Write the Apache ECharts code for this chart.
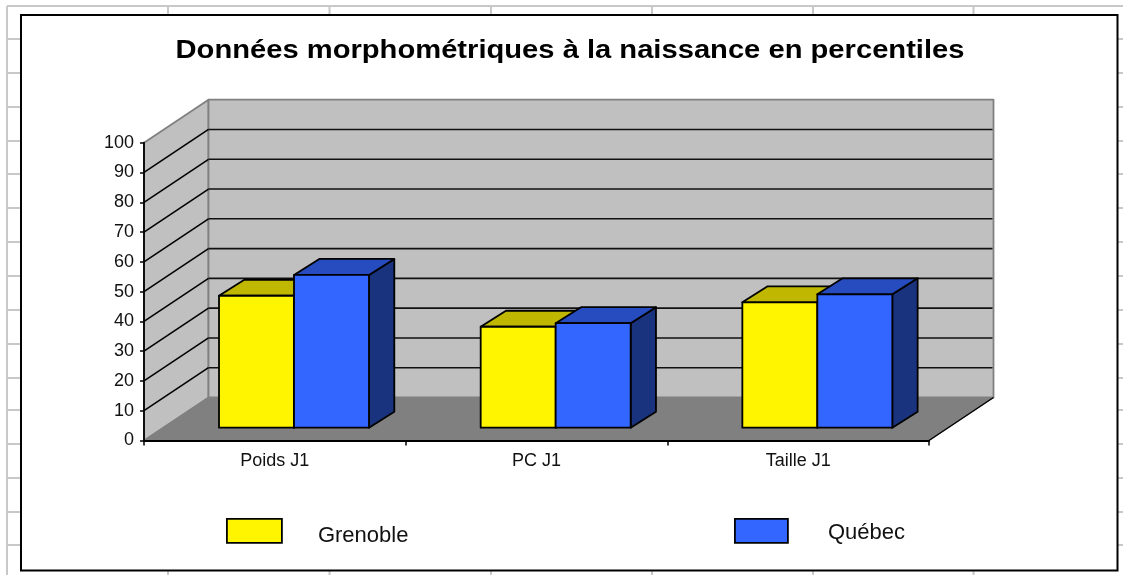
<!DOCTYPE html>
<html><head><meta charset="utf-8">
<style>html,body{margin:0;padding:0;background:#fff}#c{width:1123px;height:575px}</style>
<script src="https://cdn.jsdelivr.net/npm/echarts@6/dist/echarts.min.js"></script>
</head><body><div id="c"></div>
<script>
var categories = ['Poids J1', 'PC J1', 'Taille J1'];
var grenoble = [44.3, 33.9, 42.1];
var quebec = [51.3, 35.1, 44.8];
var gridValues = [10, 20, 30, 40, 50, 60, 70, 80, 90];
var seriesNames = ['Grenoble', 'Québec'];
var titleText = 'Données morphométriques à la naissance en percentiles';

var FONT = '"Liberation Sans", Arial, sans-serif';
var DX = 64.5, DY = -43;          // wall depth
var BDX0 = 19.2, BDY0 = -12.8;    // bar front offset from the front plane
var BDX = 25.3, BDY = -16;        // bar depth
var GAP = 0.2133, BW = 0.2866;
var FILL = [
  {front:'#FFF500', top:'#BFB700', side:'#807A00'},
  {front:'#3366FF', top:'#264CBF', side:'#19337F'}
];
var LINE = '#000';

function poly(pts, fill, stroke, w) {
  return {type:'polygon', shape:{points:pts}, style:{fill:fill, stroke:stroke, lineWidth:w, lineJoin:'round'}};
}
function line(a, b, color, w) {
  return {type:'line', shape:{x1:a[0],y1:a[1],x2:b[0],y2:b[1]}, style:{stroke:color, lineWidth:w, fill:null}};
}
function wallItem(params, api) {
  var band = api.size([1,0])[0];
  var a = api.coord([0,0]), t = api.coord([0,100]);
  var x0 = a[0]-band/2, x1 = x0+band*3, y0 = a[1], yT = t[1];
  var kids = [
    poly([[x0,y0],[x0,yT],[x0+DX,yT+DY],[x0+DX,y0+DY]], '#C0C0C0', '#808080', 1.8),
    poly([[x0+DX,yT+DY],[x1+DX,yT+DY],[x1+DX,y0+DY],[x0+DX,y0+DY]], '#C0C0C0', '#808080', 1.8),
    poly([[x0,y0],[x0+DX,y0+DY],[x1+DX,y0+DY],[x1,y0]], '#808080', '#808080', 1),
    line([x1,y0],[x1+DX,y0+DY], LINE, 1.5)
  ];
  return {type:'group', children:kids};
}
function gridItem(params, api) {
  var band = api.size([1,0])[0];
  var a = api.coord([0,api.value(0)]);
  var x0 = a[0]-band/2, x1 = x0+band*3, y = a[1];
  return {type:'group', children:[
    line([x0,y],[x0+DX,y+DY], LINE, 1.5),
    line([x0+DX,y+DY],[x1+DX-1,y+DY], '#111', 1.6)
  ]};
}
function barItem(s) {
  return function(params, api) {
    var i = api.value(0), v = api.value(1);
    var band = api.size([1,0])[0];
    var c0 = api.coord([i,0]), c1 = api.coord([i,v]);
    var w = band*BW;
    var xl = c0[0]-band/2+band*GAP+s*w+BDX0, xr = xl+w;
    var yb = c0[1]+BDY0, yt = c1[1]+BDY0;
    var f = FILL[s];
    return {type:'group', children:[
      poly([[xr,yt],[xr+BDX,yt+BDY],[xr+BDX,yb+BDY],[xr,yb]], f.side, LINE, 1.8),
      poly([[xl,yt],[xl+BDX,yt+BDY],[xr+BDX,yt+BDY],[xr,yt]], f.top, LINE, 1.8),
      poly([[xl,yt],[xr,yt],[xr,yb],[xl,yb]], f.front, LINE, 1.8)
    ]};
  };
}

// sheet cell lines behind the chart
var bg = [];
function bgLine(x1,y1,x2,y2){bg.push({type:'line',z:0,shape:{x1:x1,y1:y1,x2:x2,y2:y2},style:{stroke:'#C8C8C8',lineWidth:2}});}
bgLine(7,6,1123,6); bgLine(7,6,7,575);
[168,329.5,491,652,813,973.5].forEach(function(x){bgLine(x,6,x,575);});
[39,73,107,141,174,208,242,276,310,344,378,410,444,478,512,545].forEach(function(y){bgLine(7,y,1123,y);});
bg.push({type:'rect',z:1,shape:{x:21,y:15,width:1096.5,height:555.5},style:{fill:'#fff',stroke:'#000',lineWidth:2}});
// title: the reference lettering is stretched horizontally
bg.push({type:'text',z:8,x:570,y:51,scaleX:1.166,scaleY:1,
  style:{text:titleText,fill:'#000',font:'bold 25px "Liberation Sans", Arial, sans-serif',align:'center',verticalAlign:'middle'}});

function legendCfg(name, left, w, pad) {
  return {data:[name], left:left, top:518, itemWidth:w, itemHeight:24, selectedMode:false, padding:0,
    itemStyle:{borderColor:'#000', borderWidth:1.8}, icon:'rect',
    formatter:'{t|{name}}',
    textStyle:{fontFamily:FONT, fontSize:22, color:'#111',
      rich:{t:{fontFamily:FONT, fontSize:22, color:'#111', padding:pad}}}};
}

var chart = echarts.init(document.getElementById('c'), null, {renderer:'canvas'});
chart.setOption({
  animation:false,
  backgroundColor:'#fff',
  grid:{left:144, right:194, top:142.7, bottom:134.5, containLabel:false},
  xAxis:{type:'category', data:categories, z:5,
    axisLine:{lineStyle:{color:'#000', width:1.8}},
    axisTick:{show:true, alignWithLabel:false, length:5, lineStyle:{color:'#000', width:1.5}},
    axisLabel:{fontFamily:FONT, fontSize:18, color:'#111', margin:12},
    splitLine:{show:false}},
  yAxis:{type:'value', min:0, max:100, interval:10, z:5,
    axisLine:{show:true, lineStyle:{color:'#000', width:1.8}},
    axisTick:{show:true, length:4, lineStyle:{color:'#000', width:1.5}},
    axisLabel:{fontFamily:FONT, fontSize:18, color:'#111', margin:10},
    splitLine:{show:false}},
  legend:[legendCfg('Grenoble',226,55,[10,0,0,31]), legendCfg('Québec',734,53,[4,0,0,35])],
  graphic:bg,
  series:[
    {type:'custom', name:'walls', z:2, silent:true, data:[[0]], renderItem:wallItem, clip:false},
    {type:'custom', name:'grid', z:3, silent:true, data:gridValues.map(function(v){return [v];}), renderItem:gridItem, clip:false},
    {type:'custom', name:seriesNames[0], z:6, itemStyle:{color:FILL[0].front},
      data:grenoble.map(function(v,i){return [i,v];}), renderItem:barItem(0), clip:false},
    {type:'custom', name:seriesNames[1], z:7, itemStyle:{color:FILL[1].front},
      data:quebec.map(function(v,i){return [i,v];}), renderItem:barItem(1), clip:false}
  ]
});
</script></body></html>
